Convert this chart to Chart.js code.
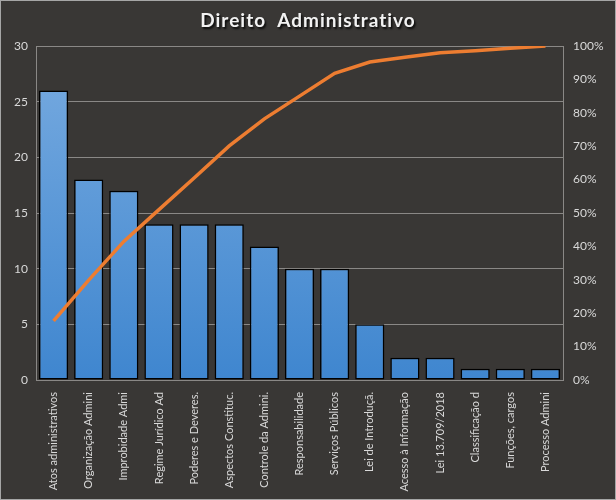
<!DOCTYPE html>
<html>
<head>
<meta charset="utf-8">
<script src="https://cdn.jsdelivr.net/npm/chart.js@4.4.1/dist/chart.umd.min.js"></script>
<style>
  html, body { margin: 0; padding: 0; background: #ffffff; }
  #wrap { width: 616px; height: 500px; }
</style>
</head>
<body>
<div id="wrap"><canvas id="pareto" width="616" height="500"></canvas></div>
<script>
const chartTitle = 'Direito  Administrativo';
const categories = [
  'Atos administrativos', 'Organização Admini', 'Improbidade Admi', 'Regime Jurídico Ad',
  'Poderes e Deveres.', 'Aspectos Constituc.', 'Controle da Admini.', 'Responsabilidade',
  'Serviços Públicos', 'Lei de Introduçã.', 'Acesso à Informação', 'Lei 13.709/2018',
  'Classificação d', 'Funções, cargos', 'Processo Admini'
];
const counts = [26, 18, 17, 14, 14, 14, 12, 10, 10, 5, 2, 2, 1, 1, 1];
const cumulativePct = [17.7, 29.9, 41.5, 51.0, 60.5, 70.1, 78.2, 85.0, 91.8, 95.2, 96.6, 98.0, 98.6, 99.3, 100];
const leftTicks = [0, 5, 10, 15, 20, 25, 30];
const rightTicks = [0, 10, 20, 30, 40, 50, 60, 70, 80, 90, 100];

const tickColor = '#d9d9d9';
const gridColor = '#8a8886';

// background, frame and shadowed title
const backdrop = {
  id: 'backdrop',
  beforeDraw(chart) {
    const c = chart.ctx;
    c.save();
    c.fillStyle = '#393735';
    c.fillRect(0, 0, chart.width, chart.height);
    c.strokeStyle = '#a6a6a6';
    c.lineWidth = 1;
    c.strokeRect(0.5, 0.5, chart.width - 1, chart.height - 1);
    c.restore();
  },
  afterDraw(chart) {
    const c = chart.ctx;
    c.save();
    c.font = 'bold 19px Lato';
    c.textAlign = 'center';
    c.textBaseline = 'middle';
    c.shadowColor = 'rgba(0,0,0,0.8)';
    c.shadowOffsetX = 1.5;
    c.shadowOffsetY = 1.5;
    c.shadowBlur = 2;
    c.fillStyle = '#f2f2f2';
    if (c.letterSpacing !== undefined) c.letterSpacing = '1px';
    c.fillText(chartTitle, chart.width / 2, 21);
    c.restore();
  }
};

function barGradient(context) {
  const area = context.chart.chartArea;
  if (!area) return '#5b9bd5';
  const g = context.chart.ctx.createLinearGradient(0, area.top, 0, area.bottom);
  g.addColorStop(0, '#78abe0');
  g.addColorStop(1, '#3f86cf');
  return g;
}

new Chart(document.getElementById('pareto'), {
  data: {
    labels: categories,
    datasets: [
      {
        type: 'line',
        data: cumulativePct,
        yAxisID: 'y1',
        borderColor: '#ed7d31',
        borderWidth: 3.5,
        pointRadius: 0,
        tension: 0,
        order: 0
      },
      {
        type: 'bar',
        data: counts,
        yAxisID: 'y',
        backgroundColor: barGradient,
        borderColor: '#000000',
        borderWidth: 1.5,
        borderSkipped: false,
        categoryPercentage: 1,
        barPercentage: 0.83,
        order: 1
      }
    ]
  },
  options: {
    responsive: false,
    animation: false,
    layout: { padding: { top: 46, right: 0, bottom: 0, left: 0 } },
    plugins: {
      legend: { display: false },
      title: { display: false },
      tooltip: { enabled: false }
    },
    scales: {
      x: {
        grid: { display: false },
        border: { color: gridColor, width: 1 },
        ticks: {
          color: tickColor,
          font: { family: 'Lato', size: 11 },
          minRotation: 90,
          maxRotation: 90,
          autoSkip: false,
          padding: 4
        },
        afterFit(scale) { scale.height = 120; }
      },
      y: {
        position: 'left',
        min: 0,
        max: 30,
        afterBuildTicks(scale) { scale.ticks = leftTicks.map(v => ({ value: v })); },
        grid: { color: gridColor, lineWidth: 1, drawTicks: false },
        border: { color: gridColor, width: 1 },
        ticks: { color: tickColor, font: { family: 'Lato', size: 12 }, padding: 8 },
        afterFit(scale) { scale.width = 36; }
      },
      y1: {
        position: 'right',
        min: 0,
        max: 100,
        afterBuildTicks(scale) { scale.ticks = rightTicks.map(v => ({ value: v })); },
        grid: { display: false, drawTicks: false },
        border: { color: gridColor, width: 1 },
        ticks: {
          color: tickColor,
          font: { family: 'Lato', size: 12 },
          padding: 10,
          callback: v => v + '%'
        },
        afterFit(scale) { scale.width = 53; }
      }
    }
  },
  plugins: [backdrop]
});
</script>
</body>
</html>
